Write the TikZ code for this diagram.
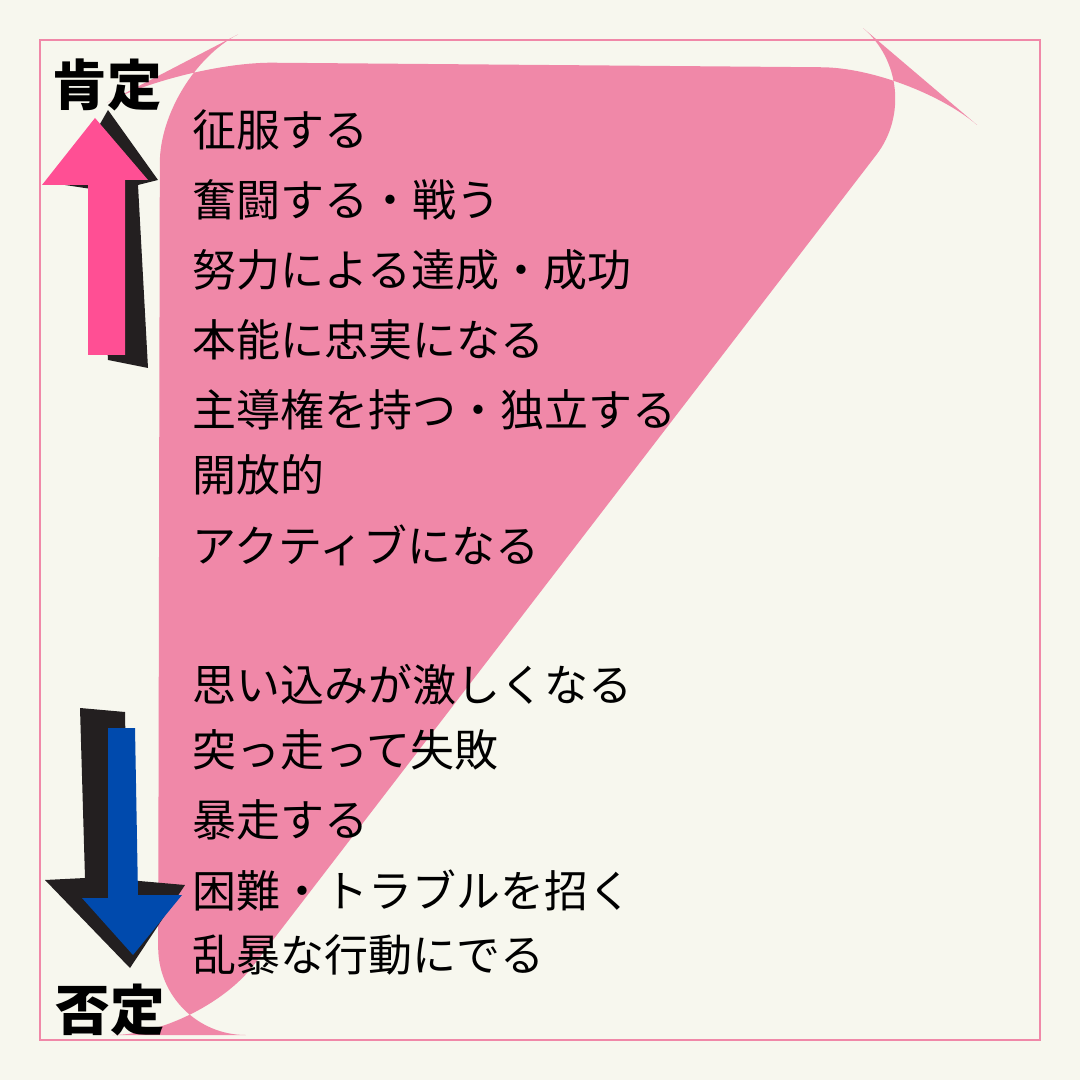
\documentclass[tikz,border=0pt]{standalone}
\usepackage{fontspec}
\newfontfamily\jp{Noto Sans CJK JP}
\newfontfamily\jpb{Noto Sans CJK JP Black}
\definecolor{bg}{HTML}{F7F7EE}
\definecolor{pk}{HTML}{F088A8}
\definecolor{apk}{HTML}{FF4F94}
\definecolor{abl}{HTML}{004AAD}
\definecolor{blk}{HTML}{231F20}
\tikzset{item/.style={anchor=west,inner sep=0pt,font=\jp\fontsize{12.5}{14}\selectfont},
 lab/.style={inner sep=0pt,font=\jp\bfseries\fontsize{15.5}{16}\selectfont}}
\begin{document}
\begin{tikzpicture}[x=0.01cm,y=-0.01cm]
\fill[bg] (0,0) rectangle (1080,1080);
\useasboundingbox (0,0) rectangle (1080,1080);
\draw[pk,line width=0.8pt] (40,40) rectangle (1040,1040);
\fill[pk,rounded corners=25pt] (160,75) -- (185,62) -- (910,68) -- (930,85) -- (200,1035) -- (158,1035) -- cycle;
% up arrow
\fill[blk] (108,110) -- (158,180) -- (138,185) -- (148,368) -- (108,360) -- (98,190) -- (65,185) -- cycle;
\fill[apk] (95,118) -- (148,180) -- (125,180) -- (125,355) -- (88,355) -- (88,185) -- (42,185) -- cycle;
% down arrow
\fill[blk] (80,708) -- (125,712) -- (128,880) -- (185,885) -- (130,968) -- (45,880) -- (85,878) -- cycle;
\fill[abl] (108,728) -- (135,728) -- (138,895) -- (182,895) -- (133,955) -- (82,898) -- (108,898) -- cycle;
\node[lab] (pos) at (107,85) {肯定};
\node[lab] (neg) at (110,1010) {否定};
\foreach \t/\y [count=\i] in {征服する/130,奮闘する・戦う/200,努力による達成・成功/270,本能に忠実になる/340,主導権を持つ・独立する/410,開放的/475,アクティブになる/545,思い込みが激しくなる/685,突っ走って失敗/750,暴走する/820,困難・トラブルを招く/890,乱暴な行動にでる/955}
  \node[item] (t\i) at (192,\y) {\t};
\end{tikzpicture}
\end{document}
